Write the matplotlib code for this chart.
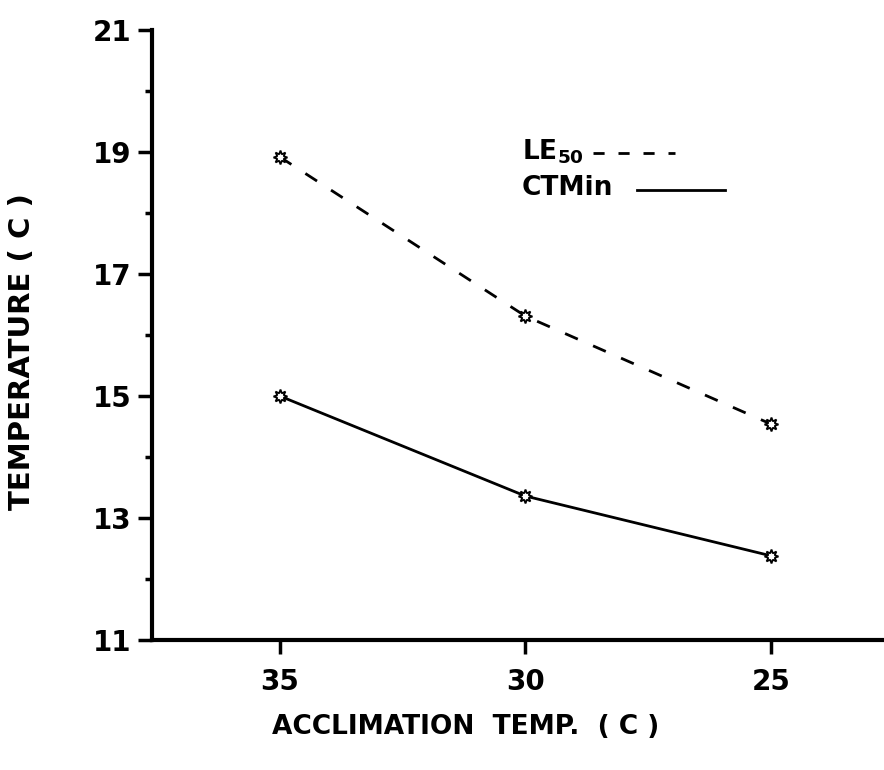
import matplotlib
matplotlib.use("Agg")
import matplotlib.pyplot as plt

acclimation = [35, 30, 25]
le50 = [18.92, 16.31, 14.54]
ctmin = [15.0, 13.36, 12.38]
x_ticks = [35, 30, 25]
y_ticks = [11, 13, 15, 17, 19, 21]
y_minor = [12, 14, 16, 18, 20]

plt.rcParams['font.family'] = ['DejaVu Sans']

fig = plt.figure(figsize=(8.84, 7.70), dpi=100)
ax = fig.add_axes([152 / 884, 1 - 640 / 770, 1 - 152 / 884, 610 / 770])

marker_style = dict(marker=(8, 1, 0), markersize=10, markerfacecolor='white',
                    markeredgecolor='black', markeredgewidth=1.3)

ax.plot(acclimation, le50, color='black', lw=2.0, linestyle=(0, (5, 6)), **marker_style)
ax.plot(acclimation, ctmin, color='black', lw=2.0, **marker_style)

ax.set_xlim(37.6, 22.7)
ax.set_ylim(11, 21)
ax.set_xticks(x_ticks)
ax.set_yticks(y_ticks)
ax.set_yticks(y_minor, minor=True)
ax.tick_params(axis='both', which='major', direction='out', length=10, width=2.5,
               labelsize=20)
ax.tick_params(axis='x', which='major', pad=10)
ax.tick_params(axis='y', which='major', pad=5)
ax.tick_params(axis='y', which='minor', direction='out', length=5, width=2.5)
for lab in ax.get_xticklabels() + ax.get_yticklabels():
    lab.set_fontweight('bold')

ax.spines['top'].set_visible(False)
ax.spines['right'].set_visible(False)
ax.spines['left'].set_linewidth(3)
ax.spines['bottom'].set_linewidth(3)

fig.text(466 / 884, 1 - 727 / 770, "ACCLIMATION  TEMP.  ( C )", ha='center', va='center',
         fontsize=19, fontweight='bold')
fig.text(22 / 884, 1 - 352 / 770, "TEMPERATURE ( C )", ha='center', va='center',
         rotation=90, fontsize=21, fontweight='bold')

# legend drawn by hand to mimic the original layout
fig.text(522 / 884, 1 - 152 / 770, r"LE$_{\mathbf{50}}$", ha='left', va='center',
         fontsize=19, fontweight='bold')
fig.text(522 / 884, 1 - 188 / 770, "CTMin", ha='left', va='center',
         fontsize=19, fontweight='bold')
fig.add_artist(plt.Line2D([593 / 884, 675 / 884], [1 - 153 / 770, 1 - 153 / 770],
                          color='black', lw=2.0, linestyle=(0, (4, 5))))
fig.add_artist(plt.Line2D([637 / 884, 725 / 884], [1 - 190 / 770, 1 - 190 / 770],
                          color='black', lw=2.0))

fig.savefig("out.png", dpi=100)
